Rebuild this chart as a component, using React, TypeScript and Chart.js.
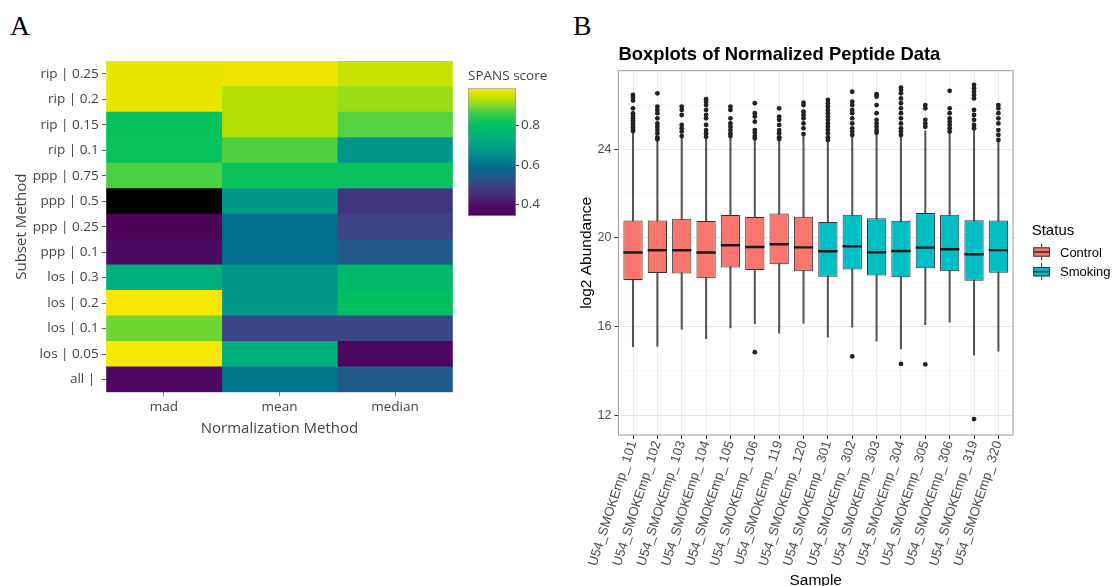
import React, { useEffect, useRef } from 'react';
import { Chart, registerables } from 'chart.js';
Chart.register(...registerables);

// ---------- Panel A data ----------
const rowLabels = ['rip | 0.25', 'rip | 0.2', 'rip | 0.15', 'rip | 0.1', 'ppp | 0.75', 'ppp | 0.5', 'ppp | 0.25', 'ppp | 0.1', 'los | 0.3', 'los | 0.2', 'los | 0.1', 'los | 0.05', 'all | '];
const colLabels = ['mad', 'mean', 'median'];
const madScores: (number | null)[] = [0.975, 0.975, 0.805, 0.81, 0.87, null, 0.35, 0.38, 0.735, 0.99, 0.89, 0.99, 0.37];
const meanScores: (number | null)[] = [0.98, 0.928, 0.928, 0.872, 0.81, 0.675, 0.6, 0.6, 0.675, 0.675, 0.505, 0.735, 0.61];
const medianScores: (number | null)[] = [0.945, 0.915, 0.875, 0.675, 0.81, 0.47, 0.5, 0.545, 0.77, 0.8, 0.505, 0.37, 0.545];
const scoreMin = 0.343;
const scoreMax = 0.988;
const colorbarTicks = [0.4, 0.6, 0.8];

// ---------- Panel B data ----------
const sampleLabels = ['U54_SMOKEmp_ 101', 'U54_SMOKEmp_ 102', 'U54_SMOKEmp_ 103', 'U54_SMOKEmp_ 104', 'U54_SMOKEmp_ 105', 'U54_SMOKEmp_ 106', 'U54_SMOKEmp_ 119', 'U54_SMOKEmp_ 120', 'U54_SMOKEmp_ 301', 'U54_SMOKEmp_ 302', 'U54_SMOKEmp_ 303', 'U54_SMOKEmp_ 304', 'U54_SMOKEmp_ 305', 'U54_SMOKEmp_ 306', 'U54_SMOKEmp_ 319', 'U54_SMOKEmp_ 320'];
const sampleStatus = ['Control', 'Control', 'Control', 'Control', 'Control', 'Control', 'Control', 'Control', 'Smoking', 'Smoking', 'Smoking', 'Smoking', 'Smoking', 'Smoking', 'Smoking', 'Smoking'];
const q1Values = [18.10, 18.42, 18.39, 18.18, 18.66, 18.55, 18.81, 18.49, 18.25, 18.57, 18.30, 18.22, 18.63, 18.49, 18.06, 18.43];
const medianValues = [19.34, 19.44, 19.44, 19.34, 19.67, 19.59, 19.71, 19.57, 19.40, 19.62, 19.35, 19.41, 19.56, 19.49, 19.26, 19.45];
const q3Values = [20.79, 20.79, 20.86, 20.76, 21.03, 20.94, 21.10, 20.95, 20.72, 21.04, 20.89, 20.77, 21.13, 21.04, 20.80, 20.79];
const whiskerLow = [15.09, 15.10, 15.88, 15.45, 15.93, 16.13, 15.70, 16.15, 15.52, 15.97, 15.34, 14.99, 16.08, 16.20, 14.70, 14.89];
const whiskerHigh = [24.80, 24.42, 24.58, 24.55, 24.58, 24.48, 24.45, 24.65, 24.40, 24.62, 24.72, 24.62, 24.83, 24.78, 24.92, 24.40];
const outlierValues: number[][] = [
  [26.46, 26.35, 26.2, 25.85, 25.62, 25.5, 25.4, 25.3, 25.2, 25.1, 25.0, 24.9, 24.83],
  [26.53, 25.93, 25.78, 25.63, 25.4, 25.17, 25.02, 24.87, 24.72, 24.54, 24.45],
  [25.93, 25.78, 25.55, 25.1, 24.95, 24.8, 24.6],
  [26.26, 26.15, 26.0, 25.78, 25.55, 25.4, 25.1, 24.87, 24.72, 24.57],
  [25.93, 25.78, 25.4, 25.17, 25.02, 24.87, 24.72, 24.6],
  [26.08, 25.63, 25.48, 25.25, 24.87, 24.75, 24.6, 24.5, 14.84],
  [25.85, 25.48, 25.33, 25.1, 24.87, 24.72, 24.54, 24.47],
  [26.11, 26.0, 25.7, 25.55, 25.4, 25.17, 24.95, 24.69],
  [26.23, 26.08, 25.93, 25.78, 25.63, 25.48, 25.33, 25.17, 25.02, 24.87, 24.72, 24.54, 24.42],
  [26.6, 26.15, 26.0, 25.78, 25.63, 25.4, 25.17, 24.95, 24.8, 24.65, 14.65],
  [26.49, 26.38, 26.0, 25.63, 25.33, 25.17, 25.02, 24.87, 24.75],
  [26.79, 26.68, 26.53, 26.3, 26.08, 25.85, 25.63, 25.4, 25.17, 24.95, 24.8, 24.65, 14.31],
  [26.0, 25.85, 25.33, 25.17, 25.02, 14.29],
  [26.64, 25.85, 25.63, 25.4, 25.25, 25.1, 24.95, 24.8],
  [26.91, 26.76, 26.6, 26.45, 26.3, 25.78, 25.55, 25.33, 25.1, 24.95, 11.82],
  [26.0, 25.85, 25.63, 25.4, 25.17, 24.87, 24.65, 24.42],
];
const yGridValues = [12, 14, 16, 18, 20, 22, 24, 26];
const yLabelValues = [12, 16, 20, 24];
const yMin = 11.1;
const yMax = 27.55;
const statusLevels = ['Control', 'Smoking'];
const plotTitle = 'Boxplots of Normalized Peptide Data';

// ---------- styling ----------
const statusColors: Record<string, string> = { Control: '#F8766D', Smoking: '#00BFC4' };
const colorStops: [number, string][] = [
  [0.343, '#4b0055'], [0.40, '#4a1068'], [0.457, '#46307e'], [0.506, '#3b4689'],
  [0.539, '#22588a'], [0.60, '#00708e'], [0.669, '#00968a'], [0.735, '#00b07c'],
  [0.80, '#00c060'], [0.849, '#28ca4e'], [0.882, '#60d43c'], [0.931, '#b8e000'], [0.988, '#f6e800'],
];
const PLOTLY_FONT = '"Open Sans", "DejaVu Sans", sans-serif';
const GG_FONT = '"Liberation Sans", Arial, sans-serif';

function hexToRgb(h: string) {
  const n = parseInt(h.slice(1), 16);
  return [(n >> 16) & 255, (n >> 8) & 255, n & 255];
}
function colorFor(v: number | null): string {
  if (v === null || v === undefined) return '#000000';
  if (v <= colorStops[0][0]) return colorStops[0][1];
  for (let i = 1; i < colorStops.length; i++) {
    const [v1, c1] = colorStops[i];
    const [v0, c0] = colorStops[i - 1];
    if (v <= v1) {
      const t = (v - v0) / (v1 - v0);
      const a = hexToRgb(c0), b = hexToRgb(c1);
      const r = a.map((x, k) => Math.round(x + (b[k] - x) * t));
      return `rgb(${r[0]},${r[1]},${r[2]})`;
    }
  }
  return colorStops[colorStops.length - 1][1];
}

function Heatmap() {
  const ref = useRef<HTMLCanvasElement>(null);
  useEffect(() => {
    const cols = [madScores, meanScores, medianScores];
    const chart = new Chart(ref.current!, {
      type: 'bar',
      data: {
        labels: rowLabels,
        datasets: colLabels.map((c, ci) => ({
          label: c,
          data: rowLabels.map(() => [ci, ci + 1]),
          backgroundColor: cols[ci].map(colorFor),
          borderWidth: 0,
          grouped: false,
          barPercentage: 1,
          categoryPercentage: 1,
        })) as any,
      },
      options: {
        indexAxis: 'y',
        responsive: false,
        animation: false,
        events: [],
        layout: { padding: { top: 11, right: 107.2, left: 0, bottom: 0 } },
        plugins: { legend: { display: false }, tooltip: { enabled: false } },
        scales: {
          x: {
            type: 'linear', min: 0, max: 3,
            afterBuildTicks: (s: any) => { s.ticks = colLabels.map((_, i) => ({ value: i + 0.5 })); },
            afterFit: (s: any) => { s.height = 47.7; },
            ticks: { callback: (v: any) => colLabels[Math.floor(Number(v))], font: { family: PLOTLY_FONT, size: 13.5 }, color: '#444', padding: 3, autoSkip: false, maxRotation: 0 },
            grid: { drawOnChartArea: false, tickLength: 4, tickColor: '#888' },
            border: { display: false },
            title: { display: true, text: 'Normalization Method', font: { family: PLOTLY_FONT, size: 15 }, color: '#444', padding: { top: 0, bottom: 2.7 } },
          },
          y: {
            type: 'category', offset: true,
            afterFit: (s: any) => { s.width = 106.2; },
            ticks: { font: { family: PLOTLY_FONT, size: 13.5 }, color: '#444', padding: 3, autoSkip: false },
            grid: { offset: false, drawOnChartArea: false, tickLength: 4.5, tickColor: '#666' },
            border: { display: false },
            title: { display: true, text: 'Subset Method', font: { family: PLOTLY_FONT, size: 15 }, color: '#444', padding: { top: 13, bottom: 0 } },
          },
        },
      } as any,
    });
    return () => chart.destroy();
  }, []);
  return <canvas ref={ref} width={560} height={390} style={{ position: 'absolute', left: 0, top: 50 }} />;
}

function Colorbar() {
  const ref = useRef<HTMLCanvasElement>(null);
  useEffect(() => {
    const chart = new Chart(ref.current!, {
      type: 'bar',
      data: {
        labels: [''],
        datasets: [{
          label: 'SPANS score',
          data: [[scoreMin, scoreMax]],
          backgroundColor: (ctx: any) => {
            const ch = ctx.chart;
            const ys = ch.scales.y;
            if (!ch.chartArea || !ys) return '#888';
            const g = ch.ctx.createLinearGradient(0, ys.getPixelForValue(scoreMin), 0, ys.getPixelForValue(scoreMax));
            colorStops.forEach(([v, c]) => {
              const t = Math.min(1, Math.max(0, (v - scoreMin) / (scoreMax - scoreMin)));
              g.addColorStop(t, c);
            });
            return g;
          },
          borderColor: '#9a9a9a',
          borderWidth: 1,
          borderSkipped: false,
          barPercentage: 1,
          categoryPercentage: 1,
        }] as any,
      },
      options: {
        responsive: false,
        animation: false,
        events: [],
        layout: { padding: { top: 0, right: 0, left: 0, bottom: 6 } },
        plugins: {
          legend: { display: false }, tooltip: { enabled: false },
          title: { display: true, text: 'SPANS score', align: 'start', font: { family: PLOTLY_FONT, size: 13.5, weight: 'normal' }, color: '#444', padding: { top: 2, bottom: 4 } },
        },
        scales: {
          x: { display: false },
          y: {
            position: 'right', min: scoreMin, max: scoreMax,
            afterBuildTicks: (s: any) => { s.ticks = colorbarTicks.map(v => ({ value: v })); },
            afterFit: (s: any) => { s.width = 42; },
            ticks: { callback: (v: any) => Number(v).toFixed(1), font: { family: PLOTLY_FONT, size: 13.5 }, color: '#444', padding: 2 },
            grid: { drawOnChartArea: false, tickLength: 3, tickColor: '#444' },
            border: { display: false },
          },
        },
      } as any,
    });
    return () => chart.destroy();
  }, []);
  return <canvas ref={ref} width={90} height={160} style={{ position: 'absolute', left: 467.8, top: 66 }} />;
}

function Boxplots() {
  const ref = useRef<HTMLCanvasElement>(null);
  useEffect(() => {
    const idx = sampleLabels.map((_, i) => i);
    const boxDatasets = statusLevels.map(st => ({
      type: 'bar',
      label: st,
      data: idx.filter(i => sampleStatus[i] === st).map(i => ({ x: i, y: [q1Values[i], q3Values[i]] })),
      backgroundColor: statusColors[st],
      borderColor: '#333333',
      borderWidth: 1,
      borderSkipped: false,
      grouped: false,
      barPercentage: 0.79,
      categoryPercentage: 1,
      order: 2,
    }));
    const titlePlugin = {
      id: 'ggTitle',
      afterDraw(chart: any) {
        const c = chart.ctx;
        c.save();
        c.font = `bold 18.4px ${GG_FONT}`;
        c.fillStyle = '#000';
        c.textBaseline = 'alphabetic';
        c.textAlign = 'left';
        c.fillText(plotTitle, chart.chartArea.left, 29.5);
        c.restore();
      },
    };
    const borderPlugin = {
      id: 'panelBorder',
      afterDatasetsDraw(chart: any) {
        const { left, top, right, bottom } = chart.chartArea;
        const c = chart.ctx;
        c.save();
        c.strokeStyle = '#9a9a9a';
        c.lineWidth = 1;
        c.strokeRect(left, top, right - left, bottom - top);
        c.restore();
      },
    };
    const legendPlugin = {
      id: 'ggLegend',
      afterDraw(chart: any) {
        const c = chart.ctx;
        const x0 = chart.chartArea.right;
        c.save();
        c.font = `15px ${GG_FONT}`;
        c.fillStyle = '#000';
        c.textBaseline = 'alphabetic';
        c.textAlign = 'left';
        c.fillText('Status', x0 + 18.7, 205);
        statusLevels.forEach((st, k) => {
          const cy = 222 + k * 19.7;
          const bx = x0 + 20.3, bw = 16.7, bh = 9.4;
          c.strokeStyle = '#333';
          c.lineWidth = 1;
          c.beginPath();
          c.moveTo(bx + bw / 2, cy - 8.5); c.lineTo(bx + bw / 2, cy - bh / 2);
          c.moveTo(bx + bw / 2, cy + bh / 2); c.lineTo(bx + bw / 2, cy + 8.5);
          c.stroke();
          c.fillStyle = statusColors[st];
          c.fillRect(bx, cy - bh / 2, bw, bh);
          c.strokeRect(bx + 0.5, cy - bh / 2 + 0.5, bw - 1, bh - 1);
          c.lineWidth = 1.6;
          c.beginPath(); c.moveTo(bx, cy); c.lineTo(bx + bw, cy); c.stroke();
          c.fillStyle = '#000';
          c.font = `13px ${GG_FONT}`;
          c.fillText(st, x0 + 47, cy + 4.7);
        });
        c.restore();
      },
    };
    const chart = new Chart(ref.current!, {
      type: 'bar',
      data: {
        datasets: [
          {
            type: 'bar', label: 'whisker',
            data: idx.map(i => ({ x: i, y: [whiskerLow[i], whiskerHigh[i]] })),
            backgroundColor: '#555555', barThickness: 1.4, grouped: false, borderWidth: 0, order: 3,
          },
          ...boxDatasets,
          {
            type: 'scatter', label: 'median',
            data: idx.map(i => ({ x: i, y: medianValues[i] })),
            pointStyle: 'line', pointRadius: 9.65, pointBorderColor: '#1a1a1a', pointBorderWidth: 2.4, showLine: false, order: 1,
          },
          {
            type: 'scatter', label: 'outliers',
            data: outlierValues.flatMap((arr, i) => arr.map(v => ({ x: i, y: v }))),
            pointRadius: 2.4, pointBackgroundColor: '#222222', pointBorderWidth: 0, showLine: false, order: 0,
          },
        ] as any,
      },
      options: {
        responsive: false,
        animation: false,
        events: [],
        layout: { padding: { top: 40.7, right: 101, left: 0, bottom: 0 } },
        plugins: { legend: { display: false }, tooltip: { enabled: false } },
        scales: {
          x: {
            type: 'linear', min: -0.6, max: 15.6, offset: false,
            afterBuildTicks: (s: any) => { s.ticks = idx.map(i => ({ value: i })); },
            afterFit: (s: any) => { s.height = 165; },
            ticks: {
              callback: (v: any) => sampleLabels[Math.round(Number(v))],
              font: { family: GG_FONT, size: 13.2 }, color: '#4d4d4d', padding: 0,
              autoSkip: false, minRotation: 72, maxRotation: 72,
            },
            grid: { offset: false, color: '#ebebeb', lineWidth: 1, tickColor: '#333', tickLength: 4 },
            border: { display: false },
            title: { display: true, text: 'Sample', font: { family: GG_FONT, size: 15.5 }, color: '#000', padding: { top: 0, bottom: 10 } },
          },
          y: {
            min: yMin, max: yMax,
            afterBuildTicks: (s: any) => { s.ticks = yGridValues.map(v => ({ value: v })); },
            afterFit: (s: any) => { s.width = 58.4; },
            ticks: {
              callback: (v: any) => (yLabelValues.includes(Number(v)) ? String(v) : ''),
              font: { family: GG_FONT, size: 12.5 }, color: '#4d4d4d', padding: 3,
            },
            grid: {
              color: (ctx: any) => (yLabelValues.includes(ctx.tick?.value) ? '#e6e6e6' : '#f3f3f3'),
              lineWidth: (ctx: any) => (yLabelValues.includes(ctx.tick?.value) ? 1 : 0.7),
              tickColor: (ctx: any) => (yLabelValues.includes(ctx.tick?.value) ? '#333' : 'rgba(0,0,0,0)'),
              tickLength: 4,
            },
            border: { display: false },
            title: { display: true, text: 'log2 Abundance', font: { family: GG_FONT, size: 15.5 }, color: '#000', padding: { top: 17.7, bottom: 0 } },
          },
        },
      } as any,
      plugins: [titlePlugin, borderPlugin, legendPlugin],
    });
    return () => chart.destroy();
  }, []);
  return <canvas ref={ref} width={554} height={570} style={{ position: 'absolute', left: 560, top: 30 }} />;
}

const panelLabelStyle: React.CSSProperties = {
  position: 'absolute',
  fontFamily: '"Liberation Serif", "Times New Roman", serif',
  fontSize: '27.7px',
  lineHeight: 1,
  color: '#000',
  margin: 0,
};

export default function App() {
  return (
    <div style={{ position: 'absolute', left: 0, top: 0, width: 1114, height: 586, overflow: 'hidden', background: '#fff' }}>
      <div style={{ ...panelLabelStyle, left: 10, top: 11.8 }}>A</div>
      <div style={{ ...panelLabelStyle, left: 573, top: 11.8 }}>B</div>
      <Heatmap />
      <Colorbar />
      <Boxplots />
    </div>
  );
}
